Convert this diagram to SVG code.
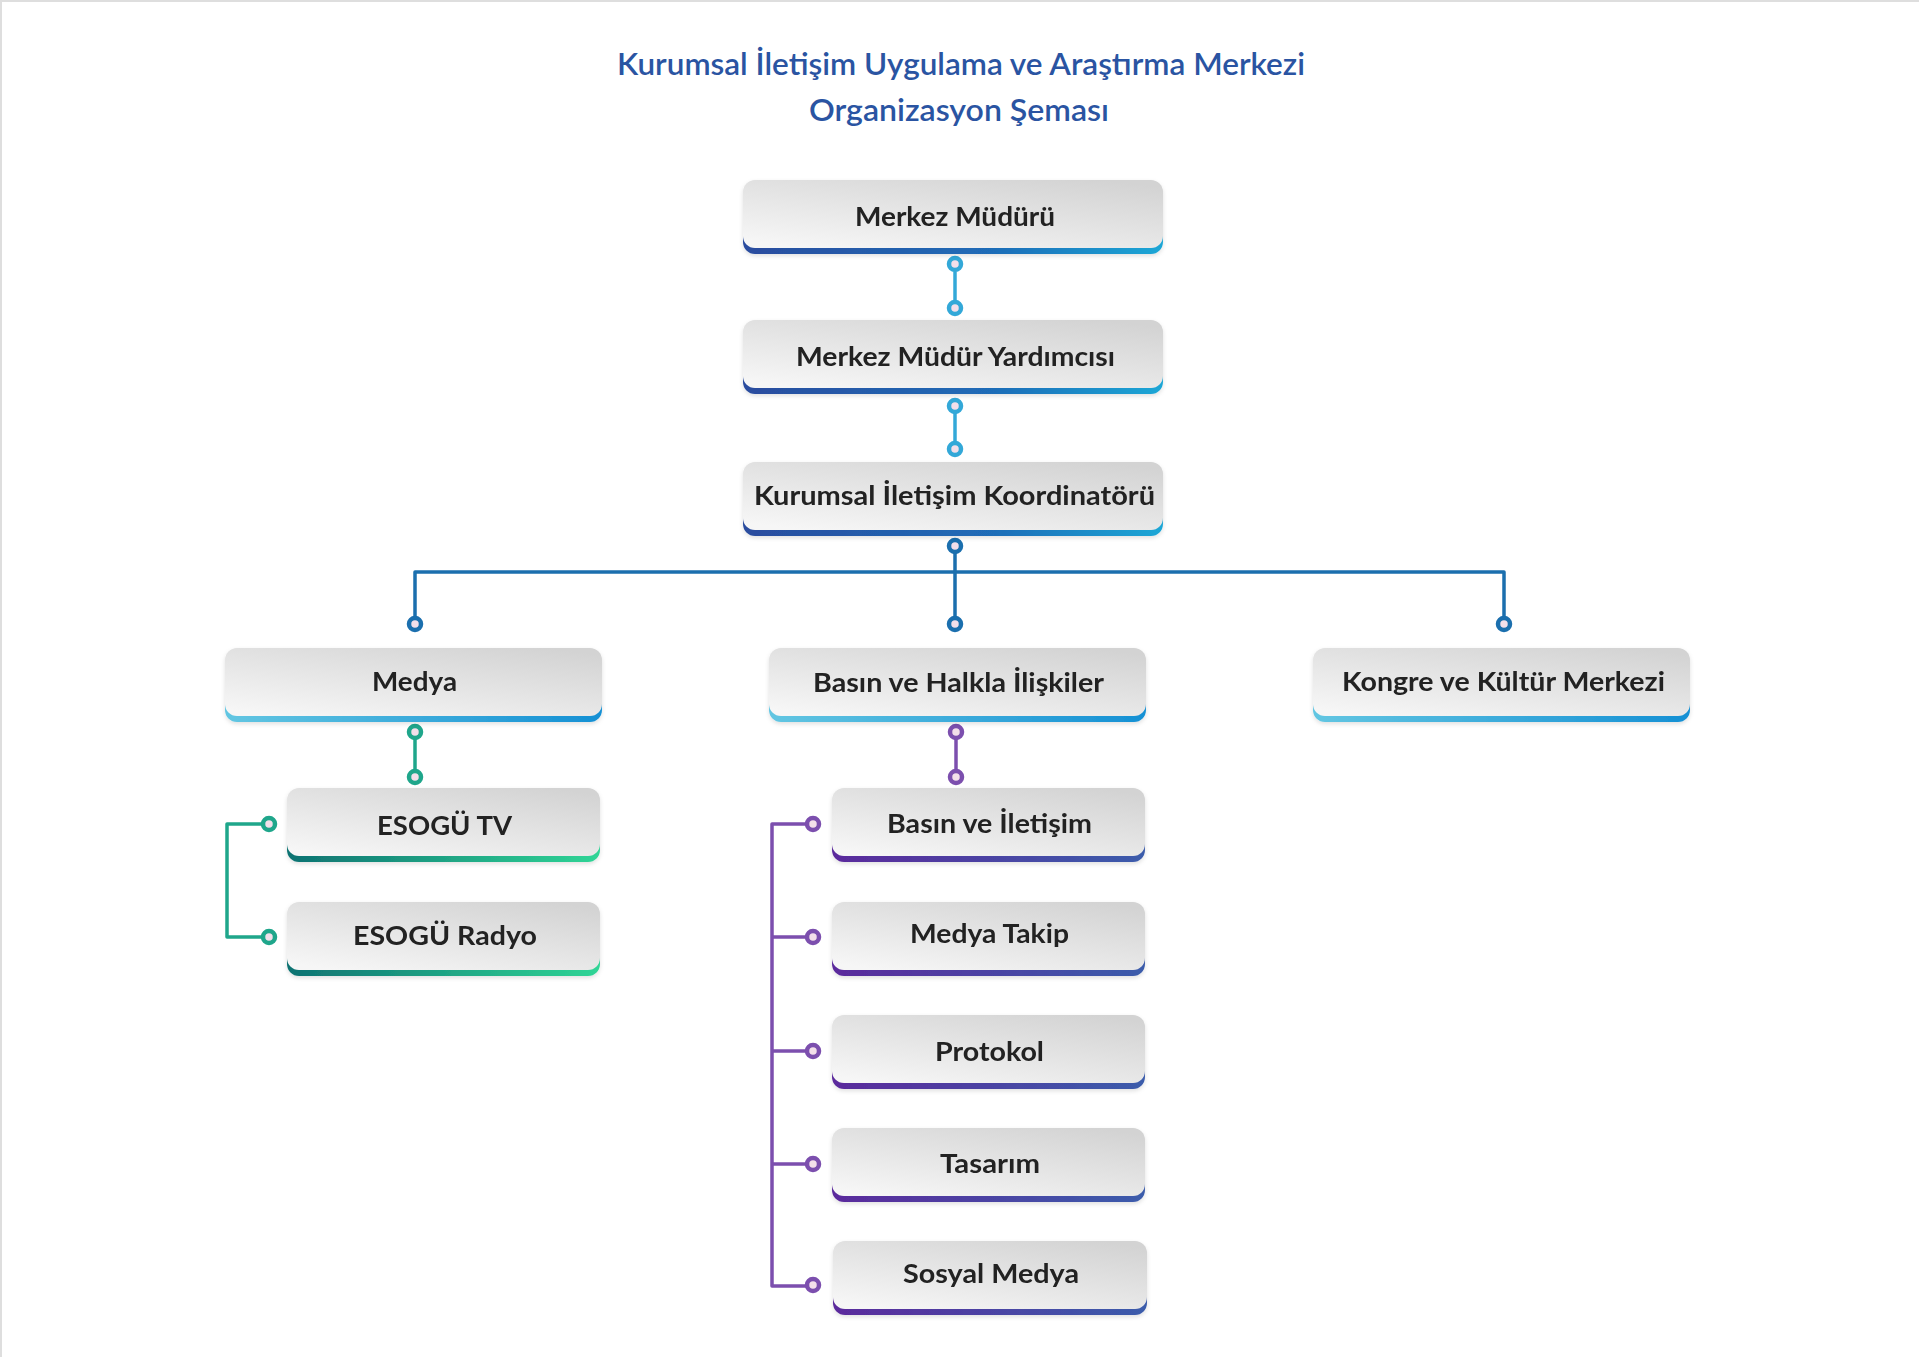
<svg xmlns="http://www.w3.org/2000/svg" width="1919" height="1357" viewBox="0 0 1919 1357">
<defs>
<linearGradient id="gray" x1="0.15" y1="1" x2="0.85" y2="0">
<stop offset="0" stop-color="#f6f6f6"/>
<stop offset="1" stop-color="#d3d3d3"/>
</linearGradient>
<linearGradient id="bTop" x1="0" y1="0" x2="1" y2="0">
<stop offset="0" stop-color="#2a4c9e"/>
<stop offset="0.6" stop-color="#1f6db8"/>
<stop offset="1" stop-color="#1fa7d6"/>
</linearGradient>
<linearGradient id="bL2" x1="0" y1="0" x2="1" y2="0">
<stop offset="0" stop-color="#62c6e2"/>
<stop offset="1" stop-color="#1590d4"/>
</linearGradient>
<linearGradient id="bTeal" x1="0" y1="0" x2="1" y2="0">
<stop offset="0" stop-color="#0e7272"/>
<stop offset="1" stop-color="#30d596"/>
</linearGradient>
<linearGradient id="bPur" x1="0" y1="0" x2="1" y2="0">
<stop offset="0" stop-color="#5b2a9c"/>
<stop offset="1" stop-color="#3b5cab"/>
</linearGradient>
<filter id="sh" x="-5%" y="-20%" width="110%" height="150%">
<feDropShadow dx="0" dy="2" stdDeviation="2" flood-color="#000" flood-opacity="0.12"/>
</filter>
</defs>
<style>
.box{fill:url(#gray)}
.lbl{font-family:Lato,"Open Sans","Liberation Sans",sans-serif;font-weight:700;font-size:27.5px;fill:#222;text-anchor:middle}
.ttl{font-family:Lato,"Open Sans","Liberation Sans",sans-serif;font-weight:600;font-size:31px;fill:#2a54a2;text-anchor:middle}
.ln{fill:none;stroke-width:3.5;stroke-linejoin:round}
.dot{fill:#f3dfea;stroke-width:4.5}
.cy{stroke:#33a8d8}
.bl{stroke:#1b6fae}
.te{stroke:#1fa68b}
.pu{stroke:#7c4fae}
</style>
<rect x="0" y="0" width="1919" height="1357" fill="#fff"/>
<path d="M1,1357 V1 H1919" fill="none" stroke="#dedede" stroke-width="2"/>

<g id="title">
<text class="ttl" x="961" y="75" textLength="688" lengthAdjust="spacingAndGlyphs">Kurumsal İletişim Uygulama ve Araştırma Merkezi</text>
<text class="ttl" x="959" y="121" textLength="300" lengthAdjust="spacingAndGlyphs">Organizasyon Şeması</text>
</g>

<g id="connectors">
<path class="ln cy" d="M955,272 V301"/>
<path class="ln cy" d="M955,413 V442"/>
<path class="ln bl" d="M955,553 V617 M415,617 V572 H1504 V617"/>
<path class="ln te" d="M415,739 V770"/>
<path class="ln te" d="M262,824 H227 V937 H262"/>
<path class="ln pu" d="M956,739 V770"/>
<path class="ln pu" d="M806,824 H772 V1286 H806 M772,937 H806 M772,1051 H806 M772,1164 H806"/>
<circle class="dot cy" cx="955" cy="264" r="6"/>
<circle class="dot cy" cx="955" cy="308" r="6"/>
<circle class="dot cy" cx="955" cy="406" r="6"/>
<circle class="dot cy" cx="955" cy="449" r="6"/>
<circle class="dot bl" cx="955" cy="546" r="6"/>
<circle class="dot bl" cx="415" cy="624" r="6"/>
<circle class="dot bl" cx="955" cy="624" r="6"/>
<circle class="dot bl" cx="1504" cy="624" r="6"/>
<circle class="dot te" cx="415" cy="732" r="6"/>
<circle class="dot te" cx="415" cy="777" r="6"/>
<circle class="dot te" cx="269" cy="824" r="6"/>
<circle class="dot te" cx="269" cy="937" r="6"/>
<circle class="dot pu" cx="956" cy="732" r="6"/>
<circle class="dot pu" cx="956" cy="777" r="6"/>
<circle class="dot pu" cx="813" cy="824" r="6"/>
<circle class="dot pu" cx="813" cy="937" r="6"/>
<circle class="dot pu" cx="813" cy="1051" r="6"/>
<circle class="dot pu" cx="813" cy="1164" r="6"/>
<circle class="dot pu" cx="813" cy="1285" r="6"/>
</g>

<g id="merkez-muduru" filter="url(#sh)">
<rect x="743" y="187" width="420" height="67" rx="12" fill="url(#bTop)"/>
<rect class="box" x="743" y="180" width="420" height="68" rx="12"/>
<text class="lbl" x="955" y="226" textLength="200" lengthAdjust="spacingAndGlyphs">Merkez Müdürü</text>
</g>
<g id="merkez-mudur-yardimcisi" filter="url(#sh)">
<rect x="743" y="327" width="420" height="67" rx="12" fill="url(#bTop)"/>
<rect class="box" x="743" y="320" width="420" height="68" rx="12"/>
<text class="lbl" x="955.5" y="366" textLength="319" lengthAdjust="spacingAndGlyphs">Merkez Müdür Yardımcısı</text>
</g>
<g id="kurumsal-iletisim-koordinatoru" filter="url(#sh)">
<rect x="743" y="469" width="420" height="67" rx="12" fill="url(#bTop)"/>
<rect class="box" x="743" y="462" width="420" height="68" rx="12"/>
<text class="lbl" x="954.5" y="505" textLength="401" lengthAdjust="spacingAndGlyphs">Kurumsal İletişim Koordinatörü</text>
</g>

<g id="medya" filter="url(#sh)">
<rect x="225" y="655" width="377" height="67" rx="12" fill="url(#bL2)"/>
<rect class="box" x="225" y="648" width="377" height="68" rx="12"/>
<text class="lbl" x="414.5" y="691" textLength="85" lengthAdjust="spacingAndGlyphs">Medya</text>
</g>
<g id="basin-ve-halkla-iliskiler" filter="url(#sh)">
<rect x="769" y="655" width="377" height="67" rx="12" fill="url(#bL2)"/>
<rect class="box" x="769" y="648" width="377" height="68" rx="12"/>
<text class="lbl" x="958.5" y="692" textLength="291" lengthAdjust="spacingAndGlyphs">Basın ve Halkla İlişkiler</text>
</g>
<g id="kongre-ve-kultur-merkezi" filter="url(#sh)">
<rect x="1313" y="655" width="377" height="67" rx="12" fill="url(#bL2)"/>
<rect class="box" x="1313" y="648" width="377" height="68" rx="12"/>
<text class="lbl" x="1503.5" y="691" textLength="323" lengthAdjust="spacingAndGlyphs">Kongre ve Kültür Merkezi</text>
</g>

<g id="esogu-tv" filter="url(#sh)">
<rect x="287" y="795" width="313" height="67" rx="12" fill="url(#bTeal)"/>
<rect class="box" x="287" y="788" width="313" height="68" rx="12"/>
<text class="lbl" x="444.5" y="835" textLength="135" lengthAdjust="spacingAndGlyphs">ESOGÜ TV</text>
</g>
<g id="esogu-radyo" filter="url(#sh)">
<rect x="287" y="909" width="313" height="67" rx="12" fill="url(#bTeal)"/>
<rect class="box" x="287" y="902" width="313" height="68" rx="12"/>
<text class="lbl" x="445" y="945" textLength="184" lengthAdjust="spacingAndGlyphs">ESOGÜ Radyo</text>
</g>

<g id="basin-ve-iletisim" filter="url(#sh)">
<rect x="832" y="795" width="313" height="67" rx="12" fill="url(#bPur)"/>
<rect class="box" x="832" y="788" width="313" height="68" rx="12"/>
<text class="lbl" x="989.5" y="833" textLength="205" lengthAdjust="spacingAndGlyphs">Basın ve İletişim</text>
</g>
<g id="medya-takip" filter="url(#sh)">
<rect x="832" y="909" width="313" height="67" rx="12" fill="url(#bPur)"/>
<rect class="box" x="832" y="902" width="313" height="68" rx="12"/>
<text class="lbl" x="989.5" y="943" textLength="159" lengthAdjust="spacingAndGlyphs">Medya Takip</text>
</g>
<g id="protokol" filter="url(#sh)">
<rect x="832" y="1022" width="313" height="67" rx="12" fill="url(#bPur)"/>
<rect class="box" x="832" y="1015" width="313" height="68" rx="12"/>
<text class="lbl" x="989.5" y="1061" textLength="109" lengthAdjust="spacingAndGlyphs">Protokol</text>
</g>
<g id="tasarim" filter="url(#sh)">
<rect x="832" y="1135" width="313" height="67" rx="12" fill="url(#bPur)"/>
<rect class="box" x="832" y="1128" width="313" height="68" rx="12"/>
<text class="lbl" x="990" y="1173" textLength="100" lengthAdjust="spacingAndGlyphs">Tasarım</text>
</g>
<g id="sosyal-medya" filter="url(#sh)">
<rect x="833" y="1248" width="314" height="67" rx="12" fill="url(#bPur)"/>
<rect class="box" x="833" y="1241" width="314" height="68" rx="12"/>
<text class="lbl" x="991" y="1283" textLength="176" lengthAdjust="spacingAndGlyphs">Sosyal Medya</text>
</g>
</svg>
